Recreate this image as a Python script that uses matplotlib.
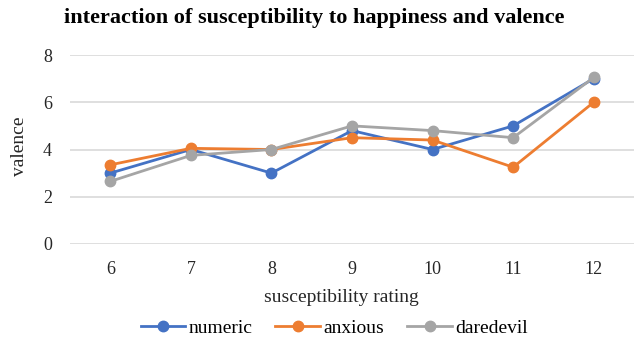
import matplotlib.pyplot as plt

# datos leídos por categoría de susceptibilidad
ratings = ['6', '7', '8', '9', '10', '11', '12']
numeric = [3.0, 4.0, 3.0, 4.8, 4.0, 5.0, 7.0]
anxious = [3.35, 4.05, 4.0, 4.5, 4.4, 3.25, 6.0]
daredevil = [2.65, 3.75, 4.0, 5.0, 4.8, 4.5, 7.05]

plt.rcParams['font.family'] = ['Liberation Serif', 'DejaVu Serif']

fig = plt.figure(figsize=(6.34, 3.39), dpi=100)
ax = fig.add_axes([70 / 634, 1 - 244 / 339, 564 / 634, (244 - 55) / 339])

x = range(len(ratings))
ax.plot(x, numeric, color='#4472C4', marker='o', markersize=7.5, linewidth=2, label='numeric')
ax.plot(x, anxious, color='#ED7D31', marker='o', markersize=7.5, linewidth=2, label='anxious')
ax.plot(x, daredevil, color='#A5A5A5', marker='o', markersize=7.5, linewidth=2, label='daredevil')

ax.set_xlim(-0.5, len(ratings) - 0.5)
ax.set_ylim(0, 8)
ax.set_yticks([0, 2, 4, 6, 8])
ax.set_xticks(list(x))
ax.set_xticklabels(ratings)
ax.grid(axis='y', color='#D9D9D9', linewidth=1.2)
ax.set_axisbelow(True)
for s in ax.spines.values():
    s.set_visible(False)
ax.tick_params(length=0, labelsize=13, colors='#262626')
ax.tick_params(axis='y', pad=13)
ax.tick_params(axis='x', pad=12)

fig.text(314 / 634, 1 - 18 / 339, 'interaction of susceptibility to happiness and valence',
         ha='center', va='center', fontsize=16, fontweight='bold')
fig.text(20 / 634, 1 - 146 / 339, 'valence', rotation=90, ha='center', va='center',
         fontsize=14, color='#262626')
fig.text(341 / 634, 1 - 298 / 339, 'susceptibility rating', ha='center', va='center',
         fontsize=14, color='#262626')

fig.legend(loc='center', bbox_to_anchor=(334 / 634, 1 - 328 / 339), ncol=3, frameon=False,
           fontsize=14, handlelength=2.3, handletextpad=0.15, columnspacing=1.2)

plt.savefig('out.png', dpi=100)
